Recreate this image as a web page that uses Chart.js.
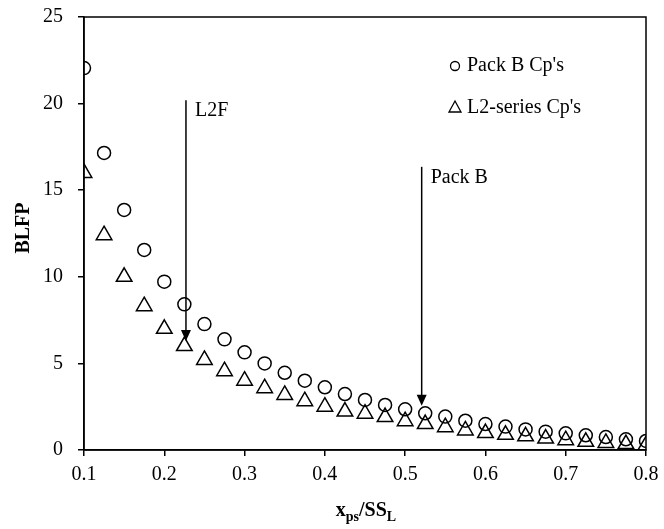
<!DOCTYPE html>
<html>
<head>
<meta charset="utf-8">
<script src="https://cdn.jsdelivr.net/npm/chart.js@4.4.0/dist/chart.umd.min.js"></script>
<style>
  body { margin: 0; background: #fff; }
</style>
</head>
<body>
<canvas id="blfp" width="664" height="529"></canvas>
<script>
// x positions shared by both series
const xValues = [0.1, 0.125, 0.15, 0.175, 0.2, 0.225, 0.25, 0.275, 0.3, 0.325,
    0.35, 0.375, 0.4, 0.425, 0.45, 0.475, 0.5, 0.525, 0.55, 0.575,
    0.6, 0.625, 0.65, 0.675, 0.7, 0.725, 0.75, 0.775, 0.8];

const packB = [22.05, 17.15, 13.86, 11.55, 9.72, 8.41, 7.27, 6.39, 5.64, 5.0,
    4.46, 4.0, 3.62, 3.23, 2.89, 2.6, 2.35, 2.12, 1.93, 1.69,
    1.5, 1.35, 1.19, 1.06, 0.96, 0.85, 0.75, 0.62, 0.52];

const l2Series = [16.0, 12.4, 10.0, 8.3, 7.0, 6.0, 5.2, 4.55, 4.0, 3.57,
    3.18, 2.82, 2.5, 2.22, 2.1, 1.9, 1.66, 1.5, 1.32, 1.13,
    0.98, 0.88, 0.79, 0.66, 0.57, 0.47, 0.41, 0.34, 0.28];

const seriesNames = ["Pack B Cp's", "L2-series Cp's"];

// arrow annotations: label, x, y start, y end
const arrowLabels = ['L2F', 'Pack B'];
const arrowX = [0.227, 0.5206];
const arrowTop = [20.2, 16.35];
const arrowTip = [6.3, 2.55];

const xTicks = [0.1, 0.2, 0.3, 0.4, 0.5, 0.6, 0.7, 0.8];
const yTicks = [0, 5, 10, 15, 20, 25];

const FONT = '"Liberation Serif", "Times New Roman", serif';

function toPoints(ys) {
    return xValues.map((x, i) => ({ x: x, y: ys[i] }));
}

const extras = {
    id: 'extras',
    afterDraw(chart) {
        const ctx = chart.ctx;
        const a = chart.chartArea;
        const xs = chart.scales.x;
        const ys = chart.scales.y;
        ctx.save();
        ctx.strokeStyle = '#000';
        ctx.lineWidth = 1.5;
        ctx.strokeRect(a.left, a.top, a.right - a.left, a.bottom - a.top);

        // arrows
        ctx.fillStyle = '#000';
        ctx.lineWidth = 1.5;
        for (let i = 0; i < arrowX.length; i++) {
            const px = xs.getPixelForValue(arrowX[i]);
            const y0 = ys.getPixelForValue(arrowTop[i]);
            const y1 = ys.getPixelForValue(arrowTip[i]);
            ctx.beginPath();
            ctx.moveTo(px, y0);
            ctx.lineTo(px, y1 - 8);
            ctx.stroke();
            ctx.beginPath();
            ctx.moveTo(px - 5, y1 - 11);
            ctx.lineTo(px + 5, y1 - 11);
            ctx.lineTo(px, y1);
            ctx.closePath();
            ctx.fill();
            ctx.font = '20px ' + FONT;
            ctx.textAlign = 'left';
            ctx.textBaseline = 'top';
            ctx.fillText(arrowLabels[i], px + 9, y0 + 1);
        }

        // legend
        ctx.font = '20px ' + FONT;
        ctx.textBaseline = 'middle';
        ctx.textAlign = 'left';
        ctx.lineWidth = 1.3;
        ctx.beginPath();
        ctx.arc(455, 66, 4.5, 0, Math.PI * 2);
        ctx.stroke();
        ctx.fillText(seriesNames[0], 467, 66);
        ctx.beginPath();
        ctx.moveTo(455, 101);
        ctx.lineTo(461, 112);
        ctx.lineTo(449, 112);
        ctx.closePath();
        ctx.stroke();
        ctx.fillText(seriesNames[1], 467, 108);

        // axis titles
        ctx.font = 'bold 20px ' + FONT;
        ctx.save();
        ctx.translate(24, 228);
        ctx.rotate(-Math.PI / 2);
        ctx.textAlign = 'center';
        ctx.textBaseline = 'middle';
        ctx.fillText('BLFP', 0, 0);
        ctx.restore();

        const parts = [
            ['x', 20, 0], ['ps', 14, 5], ['/SS', 20, 0], ['L', 14, 5]
        ];
        let total = 0;
        parts.forEach(p => {
            ctx.font = 'bold ' + p[1] + 'px ' + FONT;
            total += ctx.measureText(p[0]).width;
        });
        let cx = 366 - total / 2;
        ctx.textAlign = 'left';
        ctx.textBaseline = 'alphabetic';
        parts.forEach(p => {
            ctx.font = 'bold ' + p[1] + 'px ' + FONT;
            ctx.fillText(p[0], cx, 516 + p[2]);
            cx += ctx.measureText(p[0]).width;
        });
        ctx.restore();
    }
};

new Chart(document.getElementById('blfp'), {
    type: 'scatter',
    data: {
        datasets: [{
            label: seriesNames[0],
            data: toPoints(packB),
            pointStyle: 'circle',
            pointRadius: 6.5,
            pointBorderWidth: 1.5,
            borderColor: '#000',
            backgroundColor: 'rgba(0,0,0,0)'
        }, {
            label: seriesNames[1],
            data: toPoints(l2Series),
            pointStyle: 'triangle',
            pointRadius: 9,
            pointBorderWidth: 1.5,
            borderColor: '#000',
            backgroundColor: 'rgba(0,0,0,0)'
        }]
    },
    options: {
        responsive: false,
        animation: false,
        layout: { padding: { left: 0, right: 18, top: 17, bottom: 0 } },
        plugins: {
            legend: { display: false },
            tooltip: { enabled: false }
        },
        scales: {
            x: {
                type: 'linear',
                min: 0.1,
                max: 0.8,
                afterBuildTicks: (s) => { s.ticks = xTicks.map(v => ({ value: v })); },
                afterFit: (s) => { s.height = 79; s.paddingLeft = 0; s.paddingRight = 0; },
                ticks: {
                    color: '#000',
                    font: { family: FONT, size: 20 },
                    padding: 7,
                    maxRotation: 0,
                    callback: (v) => v.toFixed(1)
                },
                grid: { drawOnChartArea: false, tickLength: 6, color: '#000', lineWidth: 1.5 },
                border: { color: '#000', width: 1.5 }
            },
            y: {
                min: 0,
                max: 25,
                afterBuildTicks: (s) => { s.ticks = yTicks.map(v => ({ value: v })); },
                afterFit: (s) => { s.width = 84; s.paddingTop = 0; s.paddingBottom = 0; },
                ticks: {
                    color: '#000',
                    font: { family: FONT, size: 20 },
                    padding: 15
                },
                grid: { drawOnChartArea: false, tickLength: 6, color: '#000', lineWidth: 1.5 },
                border: { color: '#000', width: 1.5 }
            }
        }
    },
    plugins: [extras]
});
</script>
</body>
</html>
